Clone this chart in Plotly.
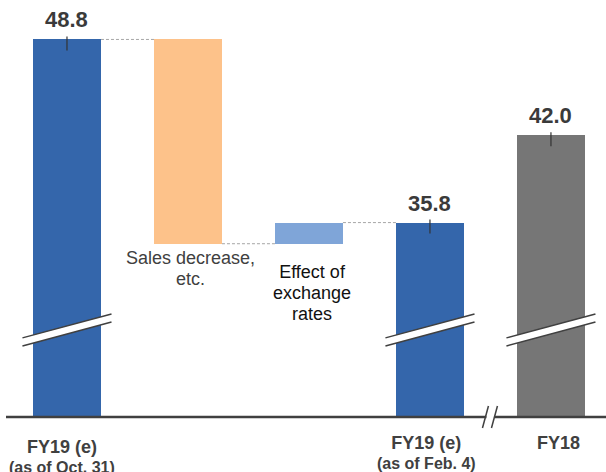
import plotly.graph_objects as go

# ---- data ----
x_pos = [0, 1, 2, 3, 4]
values = [48.8, -14.5, 1.5, 35.8, 42.0]
measures = ["absolute", "relative", "relative", "total", "absolute"]
colors = ["#3466AB", "#FDC28A", "#7FA5D8", "#3466AB", "#767676"]
label_main = ["FY19 (e)", "", "", "FY19 (e)", "FY18"]
label_sub = ["(as of Oct. 31)", "", "", "(as of Feb. 4)", ""]
step_text = {1: "Sales decrease,<br>etc.", 2: "Effect of<br>exchange<br>rates"}
step_color = {1: "#404040", 2: "#111111"}

AXIS_FLOOR = 22.0   # value where the (broken) axis is cut
Y_TOP = 51.6
X_RANGE = [-0.504, 4.455]
BAR_W = 0.562
FONT = "Arial, Liberation Sans, sans-serif"
DARK = "#404040"

# ---- waterfall geometry from data ----
bases, heights, tops = [], [], []
running = 0.0
for v, m in zip(values, measures):
    if m == "absolute":
        running = v
        b, t = AXIS_FLOOR, v
    elif m == "total":
        b, t = AXIS_FLOOR, running
    else:
        prev = running
        running = prev + v
        b, t = min(prev, running), max(prev, running)
    bases.append(b)
    heights.append(t - b)
    tops.append(t)

fig = go.Figure()
fig.add_trace(go.Bar(
    x=x_pos, y=heights, base=bases, width=BAR_W,
    marker=dict(color=colors, line=dict(width=0)),
    hoverinfo="skip", showlegend=False,
))

shapes = []
annotations = []

# connectors
levels = []
running = 0.0
for v, m in zip(values[:4], measures[:4]):
    if m == "absolute":
        running = v
    elif m == "relative":
        running += v
    levels.append(running)
for i in range(3):
    shapes.append(dict(type="line", xref="x", yref="y",
                       x0=x_pos[i] + BAR_W / 2, x1=x_pos[i + 1] - BAR_W / 2,
                       y0=levels[i], y1=levels[i],
                       line=dict(color="#A6A6A6", width=1, dash="3px,2px")))

# totals: value labels, small tick marks, axis-break marks
BREAK_Y = 28.18
BREAK_RISE = 1.70
BREAK_GAP = 0.57
BREAK_HALF_W = 0.368
for i, m in enumerate(measures):
    if m == "relative":
        continue
    xc = x_pos[i]
    annotations.append(dict(x=xc, y=tops[i], xref="x", yref="y",
                            text=f"<b>{tops[i]:.1f}</b>", showarrow=False,
                            yanchor="bottom", yshift=5,
                            font=dict(family=FONT, size=22, color="#3A3A3A")))
    shapes.append(dict(type="line", xref="x", yref="y",
                       x0=xc, x1=xc, ysizemode="pixel", yanchor=tops[i],
                       y0=-11, y1=3, line=dict(color="#333333", width=1.2)))
    xl, xr = xc - BREAK_HALF_W, xc + BREAK_HALF_W
    yl_lo = BREAK_Y - BREAK_RISE / 2 - BREAK_GAP / 2
    yr_lo = BREAK_Y + BREAK_RISE / 2 - BREAK_GAP / 2
    yl_hi = BREAK_Y - BREAK_RISE / 2 + BREAK_GAP / 2
    yr_hi = BREAK_Y + BREAK_RISE / 2 + BREAK_GAP / 2
    shapes.append(dict(type="path", xref="x", yref="y",
                       path=f"M{xl},{yl_lo} L{xr},{yr_lo} L{xr},{yr_hi} L{xl},{yl_hi} Z",
                       fillcolor="white", line=dict(width=0)))
    shapes.append(dict(type="line", xref="x", yref="y", x0=xl, x1=xr, y0=yl_lo, y1=yr_lo,
                       line=dict(color=DARK, width=1.5)))
    shapes.append(dict(type="line", xref="x", yref="y", x0=xl, x1=xr, y0=yl_hi, y1=yr_hi,
                       line=dict(color=DARK, width=1.5)))

# baseline with "//" break between the two groups
BREAK_X = 3.5
GAP_X = 0.033
shapes.append(dict(type="line", xref="x", yref="paper", x0=X_RANGE[0], x1=BREAK_X - GAP_X,
                   y0=0, y1=0, line=dict(color=DARK, width=2.5)))
shapes.append(dict(type="line", xref="x", yref="paper", x0=BREAK_X + GAP_X, x1=X_RANGE[1],
                   y0=0, y1=0, line=dict(color=DARK, width=2.5)))
for dx0, dx1 in [(-8, -2), (1, 7)]:
    shapes.append(dict(type="line", xref="x", yref="paper",
                       xsizemode="pixel", xanchor=BREAK_X, x0=dx0, x1=dx1,
                       ysizemode="pixel", yanchor=0, y0=-11, y1=11,
                       line=dict(color=DARK, width=1.5)))

# step descriptions under the floating bars
step_shift = {1: (3, -2), 2: (3, -16)}
for i, txt in step_text.items():
    lines = txt.split("<br>")
    html = "<br>".join(f"<span style='font-size:18px'>{ln}</span>" for ln in lines)
    annotations.append(dict(x=x_pos[i], y=bases[i], xref="x", yref="y",
                            text=html, showarrow=False, align="center",
                            yanchor="top", xshift=step_shift[i][0], yshift=step_shift[i][1],
                            font=dict(family=FONT, size=16, color=step_color[i])))

# category labels
cat_shift = {0: (-5, -18), 3: (-3, -14), 4: (8, -14)}
for i, (mn, sb) in enumerate(zip(label_main, label_sub)):
    if not mn:
        continue
    html = f"<b><span style='font-size:18px'>{mn}</span></b>"
    if sb:
        html += f"<br><b><span style='font-size:16px'>{sb}</span></b>"
    annotations.append(dict(x=x_pos[i], y=0, xref="x", yref="paper",
                            text=html, showarrow=False, align="center",
                            yanchor="top", xshift=cat_shift[i][0], yshift=cat_shift[i][1],
                            font=dict(family=FONT, size=15, color=DARK)))

fig.update_layout(
    width=606, height=472,
    margin=dict(l=6, r=0, t=0, b=55),
    paper_bgcolor="white", plot_bgcolor="white",
    xaxis=dict(range=X_RANGE, visible=False, fixedrange=True),
    yaxis=dict(range=[AXIS_FLOOR, Y_TOP], visible=False, fixedrange=True),
    shapes=shapes, annotations=annotations,
    bargap=0,
)

fig.write_html("out.html")
